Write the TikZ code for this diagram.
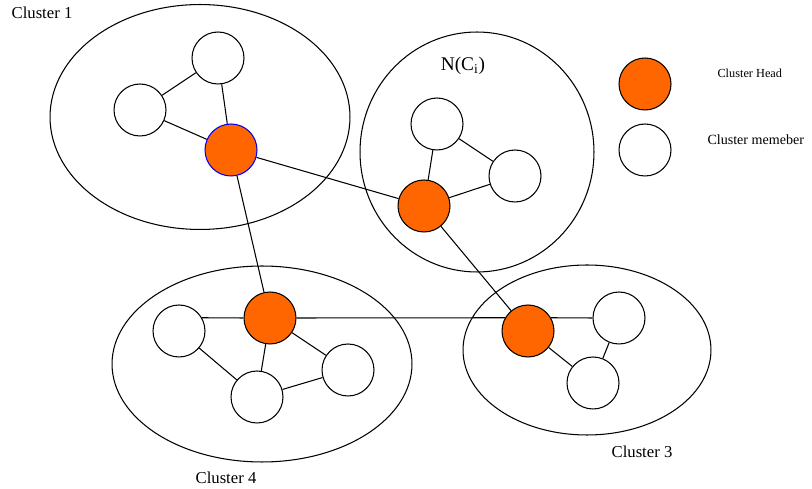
\documentclass[tikz,border=0pt]{standalone}
\usepackage{fontspec}
\setmainfont{Liberation Serif}
\usetikzlibrary{shapes.geometric}
\definecolor{headorange}{HTML}{FF6600}
\begin{document}
\begin{tikzpicture}[
        x                       = 0.02cm,
        y                       = -0.02cm,
        line width              = 0.6pt,
        member/.style           = {circle, draw, fill=white, minimum size=1.04cm, inner sep=0pt},
        head/.style             = {circle, draw, fill=headorange, minimum size=1.04cm, inner sep=0pt},
        cluster/.style          = {ellipse, draw, inner sep=0pt},
        lbl/.style              = {font=\fontsize{9.5}{11}\selectfont, inner sep=0pt},
        %legend text
        lgd/.style              = {font=\fontsize{8}{10}\selectfont, inner sep=0pt, anchor=west}
      ]
        \useasboundingbox (0,0) rectangle (812,489);

        % clusters
        \node[cluster, minimum width=6cm, minimum height=4.5cm] (c1) at (200,117) {};
        \node[cluster, minimum width=4.68cm, minimum height=4.8cm] (c2) at (477,152) {};
        \node[cluster, minimum width=6cm, minimum height=3.92cm] (c4) at (262,364) {};
        \node[cluster, minimum width=4.96cm, minimum height=3.4cm] (c3) at (587,350) {};

        \node[lbl] (l1) at (42,13) {Cluster 1};
        \node[lbl] (l4) at (226,478) {Cluster 4};
        \node[lbl] (l3) at (642,452) {Cluster 3};
        \node[font=\fontsize{11}{13}\selectfont, inner sep=0pt] (nci) at (463,66) {N(C\textsubscript{i})};

        % cluster 1
        \node[member] (a1) at (218,58) {};
        \node[member] (a2) at (140,110) {};
        \node[head, draw=blue] (h1) at (231,150) {};
        % cluster 2
        \node[member] (b1) at (437,124) {};
        \node[member] (b2) at (515,176) {};
        \node[head] (h2) at (424,206) {};
        % cluster 4
        \node[head] (h4) at (270,318) {};
        \node[member] (d1) at (179,331) {};
        \node[member] (d2) at (257,397) {};
        \node[member] (d3) at (348,370) {};
        % cluster 3
        \node[head] (h3) at (528,331) {};
        \node[member] (e1) at (619,318) {};
        \node[member] (e2) at (593,383) {};

        % links
        \draw (a1) -- (a2);
        \draw (a1) -- (h1);
        \draw (a2) -- (h1);
        \draw (b1) -- (h2);
        \draw (b1) -- (b2);
        \draw (b2) -- (h2);
        \draw (d1.30) -- (h4.west);
        \draw (h4) -- (d2);
        \draw (h4) -- (d3);
        \draw (d1) -- (d2);
        \draw (d2) -- (d3);
        \draw (h3.30) -- (e1.west);
        \draw (h3) -- (e2);
        \draw (e1) -- (e2);
        \draw (h1) -- (h2);
        \draw (h1) -- (h4);
        \draw (h2) -- (h3);
        \draw (h4.east) -- (h3.150);

        % legend
        \node[head] (kh) at (645,84) {};
        \node[member] (km) at (645,150) {};
        \node[lgd, font=\fontsize{7}{9}\selectfont] (kht) at (717,73) {Cluster Head};
        \node[lgd] (kmt) at (707,140) {Cluster memeber};
    \end{tikzpicture}
\end{document}
